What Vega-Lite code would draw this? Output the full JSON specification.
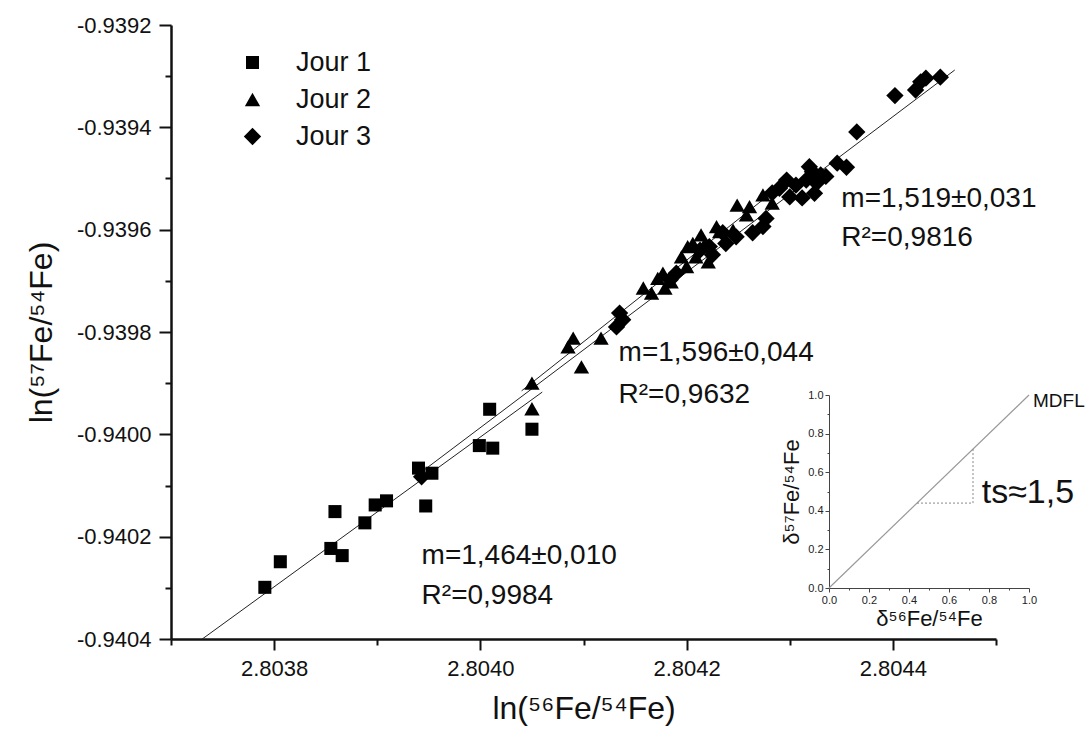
{
  "$schema": "https://vega.github.io/schema/vega-lite/v6.json",
  "width": 825,
  "height": 614,
  "autosize": "none",
  "padding": {"left": 171, "top": 25, "right": 95, "bottom": 101},
  "background": "white",
  "config": {"view": {"stroke": null}, "font": "Liberation Sans"},
  "datasets": {
    "pts": [
      {"j": "Jour 1", "x": 2.803791, "y": -0.940299},
      {"j": "Jour 1", "x": 2.803806, "y": -0.940249},
      {"j": "Jour 1", "x": 2.803855, "y": -0.940223},
      {"j": "Jour 1", "x": 2.803866, "y": -0.940237},
      {"j": "Jour 1", "x": 2.803859, "y": -0.940151},
      {"j": "Jour 1", "x": 2.803888, "y": -0.940173},
      {"j": "Jour 1", "x": 2.803898, "y": -0.940138},
      {"j": "Jour 1", "x": 2.803909, "y": -0.94013},
      {"j": "Jour 1", "x": 2.803947, "y": -0.94014},
      {"j": "Jour 1", "x": 2.80394, "y": -0.940066},
      {"j": "Jour 1", "x": 2.803953, "y": -0.940076},
      {"j": "Jour 1", "x": 2.803999, "y": -0.940022},
      {"j": "Jour 1", "x": 2.804012, "y": -0.940027},
      {"j": "Jour 1", "x": 2.804009, "y": -0.939951},
      {"j": "Jour 1", "x": 2.80405, "y": -0.93999},
      {"j": "Jour 2", "x": 2.80405, "y": -0.9399},
      {"j": "Jour 2", "x": 2.80405, "y": -0.93995},
      {"j": "Jour 2", "x": 2.804085, "y": -0.939829},
      {"j": "Jour 2", "x": 2.80409, "y": -0.939812},
      {"j": "Jour 2", "x": 2.804098, "y": -0.939868},
      {"j": "Jour 2", "x": 2.804117, "y": -0.939812},
      {"j": "Jour 2", "x": 2.804158, "y": -0.939714},
      {"j": "Jour 2", "x": 2.804166, "y": -0.939724},
      {"j": "Jour 2", "x": 2.804179, "y": -0.939714},
      {"j": "Jour 2", "x": 2.804172, "y": -0.939695},
      {"j": "Jour 2", "x": 2.804177, "y": -0.939685},
      {"j": "Jour 2", "x": 2.804185, "y": -0.939702},
      {"j": "Jour 2", "x": 2.8042, "y": -0.939672},
      {"j": "Jour 2", "x": 2.804195, "y": -0.939653},
      {"j": "Jour 2", "x": 2.804209, "y": -0.939653},
      {"j": "Jour 2", "x": 2.804221, "y": -0.939663},
      {"j": "Jour 2", "x": 2.804201, "y": -0.939633},
      {"j": "Jour 2", "x": 2.804206, "y": -0.939627},
      {"j": "Jour 2", "x": 2.804217, "y": -0.93963},
      {"j": "Jour 2", "x": 2.804214, "y": -0.93961},
      {"j": "Jour 2", "x": 2.804229, "y": -0.939594},
      {"j": "Jour 2", "x": 2.804232, "y": -0.939604},
      {"j": "Jour 2", "x": 2.804245, "y": -0.939601},
      {"j": "Jour 2", "x": 2.804249, "y": -0.939552},
      {"j": "Jour 2", "x": 2.804261, "y": -0.939555},
      {"j": "Jour 2", "x": 2.804258, "y": -0.939571},
      {"j": "Jour 2", "x": 2.804274, "y": -0.939532},
      {"j": "Jour 2", "x": 2.804283, "y": -0.939548},
      {"j": "Jour 3", "x": 2.803943, "y": -0.940083},
      {"j": "Jour 3", "x": 2.804132, "y": -0.93979},
      {"j": "Jour 3", "x": 2.804135, "y": -0.939763},
      {"j": "Jour 3", "x": 2.804138, "y": -0.939776},
      {"j": "Jour 3", "x": 2.804184, "y": -0.939698},
      {"j": "Jour 3", "x": 2.80419, "y": -0.939685},
      {"j": "Jour 3", "x": 2.804213, "y": -0.93964},
      {"j": "Jour 3", "x": 2.804222, "y": -0.939633},
      {"j": "Jour 3", "x": 2.804225, "y": -0.939649},
      {"j": "Jour 3", "x": 2.804235, "y": -0.939606},
      {"j": "Jour 3", "x": 2.804238, "y": -0.939627},
      {"j": "Jour 3", "x": 2.804248, "y": -0.939614},
      {"j": "Jour 3", "x": 2.804264, "y": -0.939606},
      {"j": "Jour 3", "x": 2.804274, "y": -0.939594},
      {"j": "Jour 3", "x": 2.804277, "y": -0.939578},
      {"j": "Jour 3", "x": 2.804283, "y": -0.939528},
      {"j": "Jour 3", "x": 2.80429, "y": -0.939519},
      {"j": "Jour 3", "x": 2.804297, "y": -0.939503},
      {"j": "Jour 3", "x": 2.8043, "y": -0.939536},
      {"j": "Jour 3", "x": 2.804306, "y": -0.939513},
      {"j": "Jour 3", "x": 2.804312, "y": -0.939538},
      {"j": "Jour 3", "x": 2.804316, "y": -0.939503},
      {"j": "Jour 3", "x": 2.804319, "y": -0.939477},
      {"j": "Jour 3", "x": 2.804322, "y": -0.939487},
      {"j": "Jour 3", "x": 2.804324, "y": -0.939529},
      {"j": "Jour 3", "x": 2.804326, "y": -0.939509},
      {"j": "Jour 3", "x": 2.80433, "y": -0.939493},
      {"j": "Jour 3", "x": 2.804335, "y": -0.939496},
      {"j": "Jour 3", "x": 2.804346, "y": -0.93947},
      {"j": "Jour 3", "x": 2.804355, "y": -0.939478},
      {"j": "Jour 3", "x": 2.804365, "y": -0.939409},
      {"j": "Jour 3", "x": 2.804402, "y": -0.939338},
      {"j": "Jour 3", "x": 2.804422, "y": -0.939327},
      {"j": "Jour 3", "x": 2.804427, "y": -0.939311},
      {"j": "Jour 3", "x": 2.804432, "y": -0.939304},
      {"j": "Jour 3", "x": 2.804446, "y": -0.939302}
    ],
    "fits": [
      {"f": "J1", "x": 2.80373, "y": -0.9404005},
      {"f": "J1", "x": 2.80406, "y": -0.9399174},
      {"f": "J2", "x": 2.80404, "y": -0.939915},
      {"f": "J2", "x": 2.80429, "y": -0.939516},
      {"f": "J3", "x": 2.80394, "y": -0.940078},
      {"f": "J3", "x": 2.80446, "y": -0.939288}
    ],
    "notes": [
      {"t": "m=1,464±0,010", "x": 2.803943, "y": -0.940238},
      {"t": "R²=0,9984", "x": 2.803943, "y": -0.940316},
      {"t": "m=1,596±0,044", "x": 2.804134, "y": -0.939841},
      {"t": "R²=0,9632", "x": 2.804134, "y": -0.939923},
      {"t": "m=1,519±0,031", "x": 2.80435, "y": -0.93954},
      {"t": "R²=0,9816", "x": 2.80435, "y": -0.939616}
    ],
    "mdfl": [
      {"x": 0, "y": 0},
      {"x": 1, "y": 1}
    ],
    "dots": [
      {"g": "h", "x": 0.44, "y": 0.44},
      {"g": "h", "x": 0.72, "y": 0.44},
      {"g": "v", "x": 0.72, "y": 0.44},
      {"g": "v", "x": 0.72, "y": 0.72}
    ],
    "inotes": [
      {"t": "MDFL", "x": 1.02, "y": 0.967},
      {"t": "ts≈1,5", "x": 0.7635, "y": 0.492}
    ]
  },
  "layer": [
    {
      "encoding": {
        "x": {
          "field": "x", "type": "quantitative",
          "scale": {"domain": [2.8037, 2.8045], "nice": false, "zero": false},
          "axis": {
            "values": [2.8037, 2.8038, 2.8039, 2.804, 2.8041, 2.8042, 2.8043, 2.8044, 2.8045],
            "labelExpr": "abs(round(datum.value*10000)) % 2 == 0 ? format(datum.value, '.4f') : ''",
            "tickSize": {"condition": {"test": "abs(round(datum.value*10000)) % 2 == 0", "value": 11}, "value": 6},
            "title": "ln(⁵⁶Fe/⁵⁴Fe)",
            "titleFontSize": 32, "titleFontWeight": "normal", "titleColor": "#111", "titlePadding": 14,
            "labelFontSize": 22, "labelColor": "#111", "labelPadding": 8, "labelFlush": false, "labelOverlap": false,
            "domainColor": "#111", "domainWidth": 2.5, "tickColor": "#111", "tickWidth": 2, "grid": false
          }
        },
        "y": {
          "field": "y", "type": "quantitative",
          "scale": {"domain": [-0.9404, -0.9392], "nice": false, "zero": false},
          "axis": {
            "values": [-0.9404, -0.9403, -0.9402, -0.9401, -0.94, -0.9399, -0.9398, -0.9397, -0.9396, -0.9395, -0.9394, -0.9393, -0.9392],
            "labelExpr": "abs(round(datum.value*10000)) % 2 == 0 ? '-' + format(abs(datum.value), '.4f') : ''",
            "tickSize": {"condition": {"test": "abs(round(datum.value*10000)) % 2 == 0", "value": 12}, "value": 6},
            "title": "ln(⁵⁷Fe/⁵⁴Fe)",
            "titleFontSize": 32, "titleFontWeight": "normal", "titleColor": "#111", "titlePadding": 18,
            "labelFontSize": 22, "labelColor": "#111", "labelPadding": 8, "labelFlush": false, "labelOverlap": false,
            "domainColor": "#111", "domainWidth": 2.5, "tickColor": "#111", "tickWidth": 2, "grid": false
          }
        }
      },
      "layer": [
        {
          "data": {"name": "fits"},
          "mark": {"type": "line", "color": "#222", "strokeWidth": 1},
          "encoding": {"detail": {"field": "f"}}
        },
        {
          "data": {"name": "pts"},
          "mark": {"type": "point", "filled": true, "opacity": 1, "color": "black", "strokeWidth": 0},
          "encoding": {
            "shape": {
              "field": "j", "type": "nominal",
              "scale": {"domain": ["Jour 1", "Jour 2", "Jour 3"], "range": ["square", "triangle-up", "diamond"]},
              "legend": {
                "title": null, "orient": "none", "legendX": 68, "legendY": 24,
                "labelFontSize": 27, "labelColor": "#111", "labelOffset": 30,
                "symbolFillColor": "black", "symbolStrokeColor": "black", "symbolStrokeWidth": 0,
                "rowPadding": 9
              }
            },
            "size": {
              "field": "j", "type": "nominal",
              "scale": {"domain": ["Jour 1", "Jour 2", "Jour 3"], "range": [170, 300, 250]},
              "legend": {
                "title": null, "orient": "none", "legendX": 68, "legendY": 24,
                "labelFontSize": 27, "labelColor": "#111", "labelOffset": 30,
                "symbolFillColor": "black", "symbolStrokeColor": "black", "symbolStrokeWidth": 0,
                "rowPadding": 9
              }
            }
          }
        },
        {
          "data": {"name": "notes"},
          "mark": {"type": "text", "align": "left", "baseline": "middle", "fontSize": 28, "color": "#111"},
          "encoding": {"text": {"field": "t"}}
        }
      ]
    },
    {
      "encoding": {
        "x": {
          "field": "x", "type": "quantitative",
          "scale": {"domain": [0, 1], "range": [658, 858], "nice": false, "zero": false},
          "axis": {
            "orient": "bottom", "offset": -51,
            "values": [0, 0.1, 0.2, 0.3, 0.4, 0.5, 0.6, 0.7, 0.8, 0.9, 1],
            "labelExpr": "round(datum.value*10) % 2 == 0 ? format(datum.value, '.1f') : ''",
            "tickSize": {"condition": {"test": "round(datum.value*10) % 2 == 0", "value": 4}, "value": 2},
            "labelFontSize": 11, "labelColor": "#222", "labelPadding": 2, "labelFlush": false, "labelOverlap": false,
            "title": "δ⁵⁶Fe/⁵⁴Fe", "titleFontSize": 22, "titleFontWeight": "normal", "titleColor": "#111", "titlePadding": 3,
            "domainColor": "#444", "domainWidth": 1, "tickColor": "#444", "tickWidth": 1, "grid": false
          }
        },
        "y": {
          "field": "y", "type": "quantitative",
          "scale": {"domain": [0, 1], "range": [563, 370], "nice": false, "zero": false},
          "axis": {
            "orient": "left", "offset": -658,
            "values": [0, 0.1, 0.2, 0.3, 0.4, 0.5, 0.6, 0.7, 0.8, 0.9, 1],
            "labelExpr": "round(datum.value*10) % 2 == 0 ? format(datum.value, '.1f') : ''",
            "tickSize": {"condition": {"test": "round(datum.value*10) % 2 == 0", "value": 4}, "value": 2},
            "labelFontSize": 11, "labelColor": "#222", "labelPadding": 2, "labelFlush": false, "labelOverlap": false,
            "title": "δ⁵⁷Fe/⁵⁴Fe", "titleFontSize": 22, "titleFontWeight": "normal", "titleColor": "#111", "titlePadding": 4,
            "domainColor": "#444", "domainWidth": 1, "tickColor": "#444", "tickWidth": 1, "grid": false
          }
        }
      },
      "layer": [
        {
          "data": {"name": "mdfl"},
          "mark": {"type": "line", "color": "#999", "strokeWidth": 1.2},
          "encoding": {}
        },
        {
          "data": {"name": "dots"},
          "mark": {"type": "line", "color": "#888", "strokeWidth": 1, "strokeDash": [2, 2]},
          "encoding": {"detail": {"field": "g"}}
        },
        {
          "data": {"name": "inotes"},
          "transform": [{"filter": "datum.t == 'MDFL'"}],
          "mark": {"type": "text", "align": "left", "baseline": "middle", "fontSize": 19, "color": "#111"},
          "encoding": {"text": {"field": "t"}}
        },
        {
          "data": {"name": "inotes"},
          "transform": [{"filter": "datum.t != 'MDFL'"}],
          "mark": {"type": "text", "align": "left", "baseline": "middle", "fontSize": 34, "color": "#111"},
          "encoding": {"text": {"field": "t"}}
        }
      ]
    }
  ],
  "resolve": {
    "scale": {"x": "independent", "y": "independent"},
    "axis": {"x": "independent", "y": "independent"}
  }
}
